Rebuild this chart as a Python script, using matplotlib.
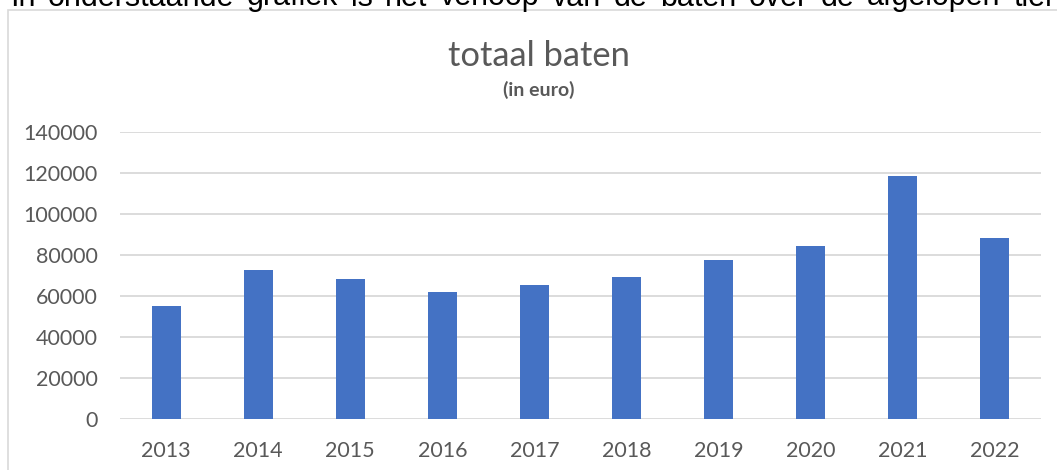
import matplotlib
matplotlib.use("Agg")
import matplotlib.pyplot as plt
from matplotlib.patches import Rectangle

years = ["2013", "2014", "2015", "2016", "2017", "2018", "2019", "2020", "2021", "2022"]
baten = [55300, 72900, 68500, 62100, 65200, 69300, 77800, 84600, 118300, 88400]
yticks = [0, 20000, 40000, 60000, 80000, 100000, 120000, 140000]
title = "totaal baten"
subtitle = "(in euro)"
intro_words = ["In", "onderstaande", "grafiek", "is", "het", "verloop", "van", "de",
               "baten", "over", "de", "afgelopen", "tien"]

W, H = 1057, 470
fig = plt.figure(figsize=(W / 100, H / 100), dpi=100)
fig.patch.set_facecolor("white")

TXT = "#595959"
FONT = ["Lato", "DejaVu Sans"]

# cropped, justified intro line at the very top
renderer = fig.canvas.get_renderer()
texts = []
for w in intro_words:
    t = fig.text(0, 1 - 5.5 / H, w, fontsize=22, family=["Liberation Sans"],
                 color="black", ha="left", va="baseline")
    texts.append(t)
widths = [t.get_window_extent(renderer).width for t in texts]
start, anchor_idx, anchor_x = 10, 11, 867
gap = (anchor_x - start - sum(widths[:anchor_idx])) / anchor_idx
xpos = start
for t, wd in zip(texts, widths):
    t.set_x(xpos / W)
    xpos += wd + gap

# chart frame
fig.patches.append(Rectangle((8 / W, -0.1), 1.2, (H - 9.5) / H + 0.1,
                             transform=fig.transFigure, fill=False,
                             edgecolor="#D9D9D9", linewidth=1.2, zorder=0))

ax = fig.add_axes([120 / W, (H - 419) / H, (1041 - 120) / W, (419 - 132) / H])
x = list(range(len(years)))
ax.bar(x, baten, width=0.315, color="#4472C4", zorder=3)
ax.set_xlim(-0.5, len(years) - 0.5)
ax.set_ylim(0, 140000)
ax.set_yticks(yticks)
ax.set_yticklabels([str(v) for v in yticks])
ax.set_xticks(x)
ax.set_xticklabels(years)
ax.grid(axis="y", color="#D9D9D9", linewidth=1.3, zorder=0)
ax.tick_params(axis="both", length=0, labelcolor=TXT, labelsize=15.5)
ax.tick_params(axis="y", pad=16)
ax.tick_params(axis="x", pad=16)
for lab in ax.get_xticklabels() + ax.get_yticklabels():
    lab.set_family(FONT)
for s in ax.spines.values():
    s.set_visible(False)

fig.text(539 / W, 1 - 66 / H, title, fontsize=24.8, family=FONT, color=TXT,
         ha="center", va="baseline")
fig.text(539 / W, 1 - 90 / H, subtitle, fontsize=14, family=FONT, color=TXT,
         weight="bold", ha="center", va="center")

fig.savefig("out.png", dpi=100)
